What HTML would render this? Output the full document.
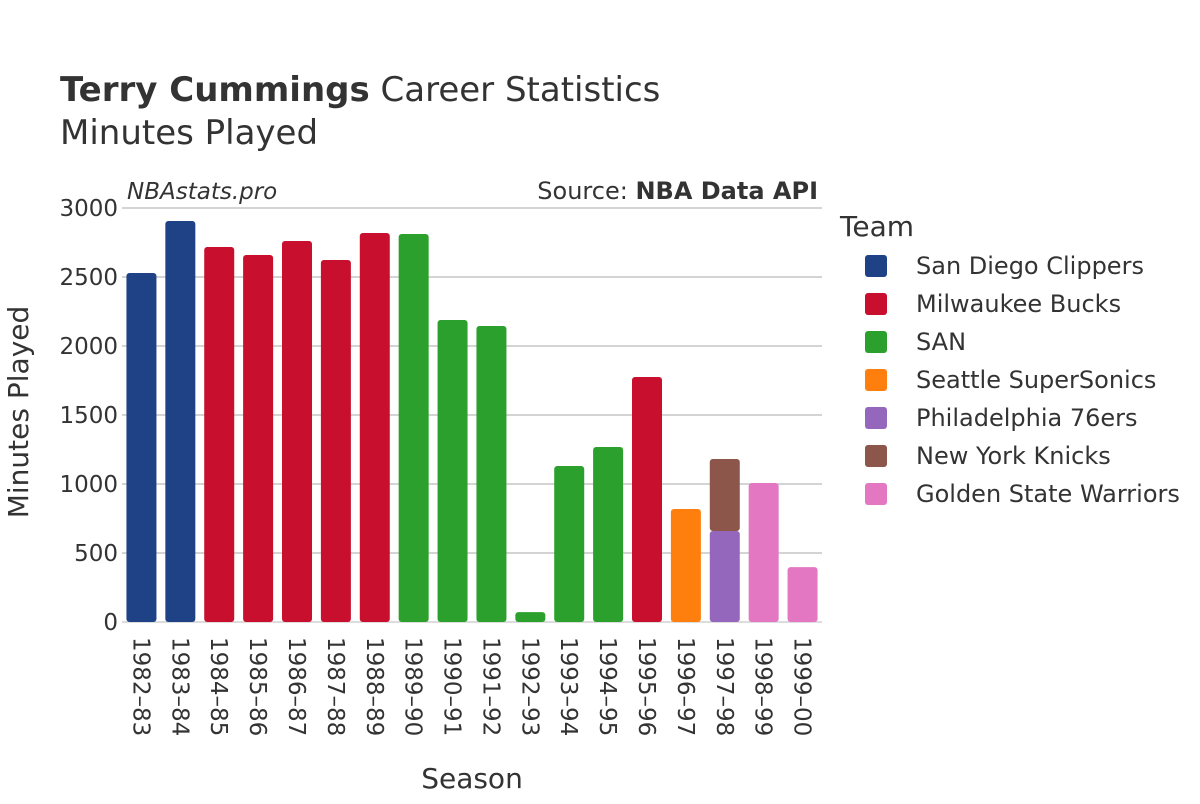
<!DOCTYPE html>
<html><head><meta charset="utf-8"><style>
body{margin:0;background:#fff;width:1200px;height:800px;overflow:hidden;font-family:"DejaVu Sans","Liberation Sans",sans-serif;}
svg text{fill:#333;}
</style></head><body>
<svg id="chart" width="1200" height="800" xmlns="http://www.w3.org/2000/svg">
<text x="60" y="101" font-size="34"><tspan font-weight="bold">Terry Cummings</tspan> Career Statistics</text>
<text x="60" y="144" font-size="34">Minutes Played</text>
<text x="127" y="199" font-size="23" font-style="italic">NBAstats.pro</text>
<text x="818" y="199" font-size="24" text-anchor="end">Source: <tspan font-weight="bold">NBA Data API</tspan></text>
<g id="grid"></g><g id="bars"></g><g id="xt"></g>
<text x="472" y="788" font-size="28" text-anchor="middle">Season</text>
<text transform="translate(28,412) rotate(-90)" font-size="28" text-anchor="middle">Minutes Played</text>
<text x="840" y="236" font-size="28">Team</text>
<g id="legend"></g>
</svg>
<script>
const seasons=["1982–83","1983–84","1984–85","1985–86","1986–87","1987–88","1988–89","1989–90","1990–91","1991–92","1992–93","1993–94","1994–95","1995–96","1996–97","1997–98","1998–99","1999–00"];
const teams=["San Diego Clippers","Milwaukee Bucks","SAN","Seattle SuperSonics","Philadelphia 76ers","New York Knicks","Golden State Warriors"];
const colors=["#1f4287","#c8102e","#2ca02c","#ff7f0e","#9467bd","#8c564b","#e377c2"];
const segSeason=[0,1,2,3,4,5,6,7,8,9,10,11,12,13,14,15,15,16,17];
const segTeam=[0,0,1,1,1,1,1,2,2,2,2,2,2,1,3,4,5,6,6];
const segValue=[2529,2906,2717,2659,2761,2623,2819,2812,2188,2145,72,1130,1268,1775,819,659,522,1007,398];
const yTicks=[0,500,1000,1500,2000,2500,3000];
const ns="http://www.w3.org/2000/svg";
const X0=122,X1=822,Y0=622,Y1=208,YMAX=3000;
const step=(X1-X0)/seasons.length, bw=30;
const y=v=>Y0-(v/YMAX)*(Y0-Y1);
const xc=i=>X0+step*(i+0.5);
function mk(t,a,p){const e=document.createElementNS(ns,t);for(const k in a)e.setAttribute(k,a[k]);p.appendChild(e);return e;}
const grid=document.getElementById('grid');
yTicks.forEach(t=>{
 const l=mk('line',{x1:X0,x2:X1,y1:y(t),y2:y(t),stroke:t===0?'#ddd':'#aaa','stroke-width':t===0?2:1},grid);
 
 
 const tx=mk('text',{x:X0-4,y:y(t)+8,'font-size':23,'text-anchor':'end'},grid);
 tx.textContent=t;
 
 
});
const bars=document.getElementById('bars');
const base=seasons.map(()=>0);
segValue.forEach((v,k)=>{
 const i=segSeason[k];
 const b=base[i];
 const r=mk('rect',{x:xc(i)-bw/2,y:y(b+v),width:bw,height:y(b)-y(b+v),fill:colors[segTeam[k]],rx:3},bars);
 
 
 base[i]+=v;
});
const xt=document.getElementById('xt');
seasons.forEach((s,i)=>{
 const t=mk('text',{transform:`translate(${xc(i)-8},637) rotate(90)`,'font-size':23},xt);
 t.textContent=s;
 
 
});
const lg=document.getElementById('legend');
teams.forEach((n,i)=>{
 const yy=266+i*38;
 const g=mk('g',{},lg);
 
 
 mk('rect',{x:865,y:yy-11,width:22,height:22,rx:3,fill:colors[i]},g);
 const t=mk('text',{x:916,y:yy+8,'font-size':24},g);t.textContent=n;
});
</script>
</body></html>
